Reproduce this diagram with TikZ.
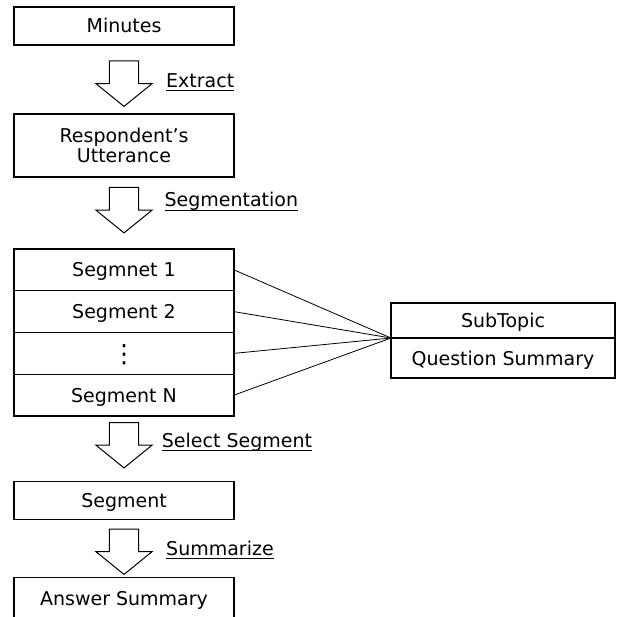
\documentclass[tikz,border=0pt]{standalone}
\usepackage{fontspec}
\setmainfont{DejaVu Sans}
\usepackage{tikz}
\usetikzlibrary{positioning}

\newsavebox{\labelbox}
\newcommand{\ulabel}[1]{\sbox{\labelbox}{#1}\rlap{\rule[-3.5pt]{\wd\labelbox}{0.9pt}}\usebox{\labelbox}}

\begin{document}
\begin{tikzpicture}[
  x=1pt,y=-1pt,
  font=\fontsize{19}{20}\selectfont,
  stepbox/.style={draw,line width=1.1pt,minimum width=220pt,inner sep=0pt,outer sep=0pt,align=center},
  onerow/.style={text height=14pt,text depth=0pt},
  segrow/.style={stepbox,onerow,minimum height=41.75pt},
  topicrow/.style={draw,line width=1.1pt,minimum width=224pt,inner sep=0pt,outer sep=0pt,onerow},
  link/.style={line width=0.8pt},
  steplabel/.style={anchor=base west,inner sep=0pt},
  flow/.pic={\draw[line width=1pt,line join=miter] (-14.7,0) -- (14.7,0) -- (14.7,22.7) -- (28,22.7) -- (0,45.4) -- (-28,22.7) -- (-14.7,22.7) -- cycle;}
]
\useasboundingbox (0,0) rectangle (616,617);

% main flow
\node[stepbox,onerow,minimum height=38pt] (minutes) at (124,26) {Minutes};
\node[stepbox,minimum height=63pt] (utter) at (124,145.5) {Respondent's\\Utterance};

\node[segrow,anchor=north] (seg1) at (124,249) {Segmnet 1};
\node[segrow,below=0pt of seg1] (seg2) {Segment 2};
\node[segrow,below=0pt of seg2,text height=19pt,font=\fontsize{25}{25}\selectfont] (segdots) {⋮};
\node[segrow,below=0pt of segdots] (segN) {Segment N};

\node[stepbox,onerow,minimum height=37.5pt] (picked) at (124,500.5) {Segment};
\node[stepbox,onerow,minimum height=42pt,anchor=north] (answer) at (124,577.3) {Answer Summary};

% topic box
\node[topicrow,minimum height=35pt,anchor=south west] (subtopic) at (391,338) {SubTopic};
\node[topicrow,minimum height=40pt,below=0pt of subtopic] (question) {Question Summary};

% block arrows and their labels
\pic at (124,61) {flow};
\pic at (124,187.5) {flow};
\pic at (124,422.5) {flow};
\pic at (124,529) {flow};

\node[steplabel] (extract) at (166,87.7) {\ulabel{Extract}};
\node[steplabel] (segmentation) at (164.3,207) {\ulabel{Segmentation}};
\node[steplabel] (select) at (161.7,447.5) {\ulabel{Select Segment}};
\node[steplabel] (summarize) at (166,555) {\ulabel{Summarize}};

% links to the topic box
\foreach \s in {seg1,seg2,segdots,segN}
  \draw[link] (\s.east) -- (subtopic.south west);
\end{tikzpicture}
\end{document}
